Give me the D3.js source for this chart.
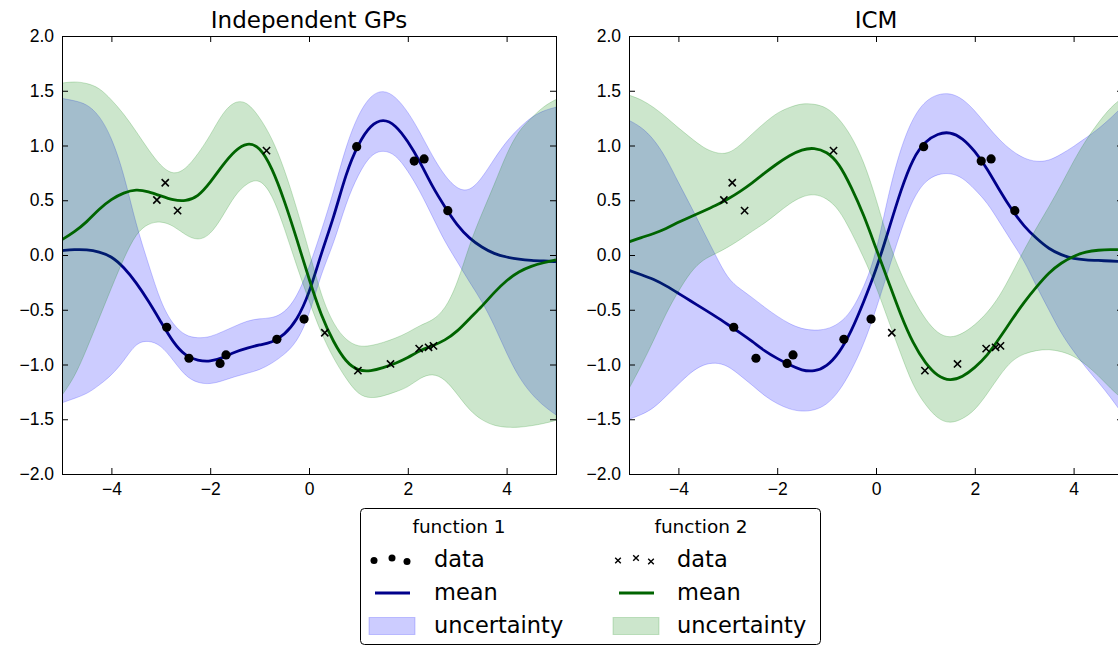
<!DOCTYPE html>
<html>
<head>
<meta charset="utf-8">
<script src="https://cdn.jsdelivr.net/npm/d3@7/dist/d3.min.js"></script>
<style>
  body { margin: 0; background: #fff; }
  svg { display: block; font-family: "DejaVu Sans", sans-serif; }
</style>
</head>
<body>
<svg id="chart" width="1118" height="646"></svg>
<script>
// prediction grid shared by every curve
const xGrid = [-5, -4.75, -4.5, -4.25, -4, -3.75, -3.5, -3.25, -3, -2.75, -2.5, -2.25, -2, -1.75, -1.5, -1.25, -1, -0.75, -0.5, -0.25,
  0, 0.25, 0.5, 0.75, 1, 1.25, 1.5, 1.75, 2, 2.25, 2.5, 2.75, 3, 3.25, 3.5, 3.75, 4, 4.25, 4.5, 4.75, 5];

// independent GPs, function 1
const indepMean1 = [0.04, 0.05, 0.05, 0.03, -0.01, -0.11, -0.25, -0.42, -0.61, -0.80, -0.925, -0.965, -0.975, -0.94, -0.885, -0.85, -0.82, -0.80, -0.73, -0.60,
  -0.36, 0.02, 0.34, 0.75, 1.02, 1.19, 1.245, 1.19, 1.04, 0.85, 0.62, 0.44, 0.27, 0.15, 0.07, 0.01, -0.02, -0.04, -0.05, -0.055, -0.06];
const indepUpper1 = [1.43, 1.41, 1.38, 1.28, 1.08, 0.75, 0.27, -0.08, -0.44, -0.64, -0.74, -0.76, -0.75, -0.70, -0.65, -0.60, -0.58, -0.578, -0.53, -0.39,
  -0.12, 0.22, 0.58, 1.0, 1.29, 1.46, 1.51, 1.45, 1.31, 1.12, 0.90, 0.72, 0.60, 0.58, 0.70, 0.88, 1.04, 1.16, 1.26, 1.32, 1.35];
const indepLower1 = [-1.35, -1.31, -1.27, -1.19, -1.10, -0.97, -0.80, -0.78, -0.82, -0.96, -1.11, -1.17, -1.18, -1.15, -1.11, -1.08, -1.05, -0.99, -0.91, -0.80,
  -0.56, -0.16, 0.10, 0.48, 0.74, 0.92, 0.96, 0.92, 0.77, 0.58, 0.35, 0.12, -0.06, -0.25, -0.42, -0.64, -0.90, -1.12, -1.27, -1.38, -1.46];

// independent GPs, function 2
const indepMean2 = [0.14, 0.21, 0.30, 0.42, 0.51, 0.57, 0.60, 0.58, 0.54, 0.50, 0.49, 0.53, 0.66, 0.82, 0.955, 1.03, 0.99, 0.80, 0.50, 0.15,
  -0.22, -0.56, -0.80, -0.98, -1.06, -1.06, -1.03, -0.99, -0.94, -0.87, -0.83, -0.78, -0.70, -0.58, -0.47, -0.34, -0.23, -0.15, -0.10, -0.07, -0.045];
const indepUpper2 = [1.57, 1.585, 1.57, 1.53, 1.42, 1.29, 1.13, 0.96, 0.81, 0.73, 0.78, 0.92, 1.09, 1.30, 1.41, 1.40, 1.26, 1.07, 0.79, 0.43,
  0.04, -0.38, -0.64, -0.78, -0.84, -0.83, -0.80, -0.76, -0.71, -0.64, -0.60, -0.50, -0.27, 0.10, 0.38, 0.64, 0.93, 1.14, 1.25, 1.36, 1.42];
const indepLower2 = [-1.28, -1.12, -0.86, -0.58, -0.30, -0.03, 0.20, 0.29, 0.31, 0.27, 0.18, 0.13, 0.18, 0.35, 0.55, 0.66, 0.70, 0.56, 0.25, -0.10,
  -0.42, -0.72, -0.95, -1.13, -1.28, -1.31, -1.29, -1.25, -1.21, -1.12, -1.08, -1.13, -1.27, -1.42, -1.51, -1.56, -1.575, -1.575, -1.56, -1.54, -1.51];

// ICM, function 1
const icmMean1 = [-0.14, -0.18, -0.22, -0.28, -0.35, -0.42, -0.49, -0.56, -0.635, -0.71, -0.79, -0.88, -0.945, -1.005, -1.055, -1.065, -1.02, -0.90, -0.70, -0.43,
  -0.14, 0.22, 0.59, 0.89, 1.04, 1.11, 1.125, 1.07, 0.95, 0.79, 0.59, 0.41, 0.26, 0.15, 0.055, 0.0, -0.035, -0.045, -0.05, -0.055, -0.06];
const icmUpper1 = [1.23, 1.17, 1.06, 0.89, 0.66, 0.45, 0.22, 0.0, -0.22, -0.31, -0.39, -0.48, -0.56, -0.63, -0.675, -0.69, -0.68, -0.63, -0.52, -0.30,
  0.0, 0.56, 0.98, 1.26, 1.41, 1.47, 1.48, 1.43, 1.32, 1.18, 1.05, 0.95, 0.88, 0.85, 0.86, 0.92, 0.99, 1.07, 1.15, 1.25, 1.36];
const icmLower1 = [-1.50, -1.46, -1.40, -1.29, -1.18, -1.07, -1.0, -0.98, -1.01, -1.10, -1.19, -1.29, -1.36, -1.41, -1.43, -1.42, -1.37, -1.25, -1.06, -0.82,
  -0.50, -0.14, 0.22, 0.52, 0.68, 0.74, 0.75, 0.71, 0.60, 0.48, 0.30, 0.12, -0.05, -0.29, -0.50, -0.72, -0.88, -1.03, -1.16, -1.30, -1.46];

// ICM, function 2
const icmMean2 = [0.12, 0.16, 0.195, 0.24, 0.30, 0.35, 0.40, 0.45, 0.51, 0.58, 0.66, 0.75, 0.835, 0.91, 0.965, 0.98, 0.945, 0.84, 0.62, 0.37,
  0.06, -0.24, -0.55, -0.81, -0.99, -1.11, -1.15, -1.115, -1.03, -0.92, -0.76, -0.59, -0.43, -0.29, -0.16, -0.07, -0.01, 0.03, 0.045, 0.05, 0.05];
const icmUpper2 = [1.46, 1.42, 1.35, 1.26, 1.16, 1.07, 0.98, 0.93, 0.92, 1.0, 1.11, 1.21, 1.30, 1.35, 1.385, 1.38, 1.35, 1.25, 1.09, 0.86,
  0.52, 0.12, -0.17, -0.40, -0.59, -0.72, -0.76, -0.72, -0.64, -0.53, -0.38, -0.17, 0.05, 0.25, 0.44, 0.64, 0.86, 1.05, 1.21, 1.35, 1.44];
const icmLower2 = [-1.22, -1.01, -0.78, -0.53, -0.33, -0.15, -0.04, 0.01, 0.07, 0.14, 0.22, 0.29, 0.38, 0.47, 0.535, 0.56, 0.52, 0.42, 0.21, -0.02,
  -0.28, -0.60, -0.90, -1.20, -1.37, -1.50, -1.54, -1.50, -1.42, -1.27, -1.10, -0.96, -0.90, -0.87, -0.86, -0.88, -0.92, -1.00, -1.10, -1.22, -1.32];

// observations
const obs1X = [-2.88, -2.43, -1.80, -1.68, -0.65, -0.10, 0.965, 2.13, 2.33, 2.81];
const obs1Y = [-0.66, -0.943, -0.99, -0.913, -0.77, -0.585, 0.989, 0.858, 0.877, 0.405];
const obs2X = [-3.08, -2.91, -2.66, -0.86, 0.32, 0.99, 1.65, 2.23, 2.42, 2.52];
const obs2Y = [0.502, 0.66, 0.405, 0.953, -0.71, -1.056, -0.995, -0.855, -0.843, -0.83];

const xTicks = [-4, -2, 0, 2, 4];
const yTicks = [-2, -1.5, -1, -0.5, 0, 0.5, 1, 1.5, 2];
const panelTitles = ['Independent GPs', 'ICM'];
const legendHeads = ['function 1', 'function 2'];
const legendItems = ['data', 'mean', 'uncertainty'];

const BLUE_LINE = '#00008b', GREEN_LINE = '#006400';
const BLUE_FILL = '#0000ff', GREEN_FILL = '#008000';

const svg = d3.select('#chart');
const plotTop = 36, plotW = 494, plotH = 438;
const y = d3.scaleLinear().domain([-2, 2]).range([plotTop + plotH, plotTop]);

const panels = [
  { title: panelTitles[0], left: 62,
    f1: { mean: indepMean1, upper: indepUpper1, lower: indepLower1 },
    f2: { mean: indepMean2, upper: indepUpper2, lower: indepLower2 } },
  { title: panelTitles[1], left: 629,
    f1: { mean: icmMean1, upper: icmUpper1, lower: icmLower1 },
    f2: { mean: icmMean2, upper: icmUpper2, lower: icmLower2 } },
];

const crossPath = (s) => `M${-s},${-s}L${s},${s}M${-s},${s}L${s},${-s}`;

panels.forEach((p, i) => {
  const x = d3.scaleLinear().domain([-5, 5]).range([p.left, p.left + plotW]);
  const g = svg.append('g');

  g.append('clipPath').attr('id', `clip-${i}`)
    .append('rect').attr('x', p.left).attr('y', plotTop).attr('width', plotW).attr('height', plotH);
  const plot = g.append('g').attr('clip-path', `url(#clip-${i})`);

  const area = (f) => d3.area()
    .x((d, k) => x(xGrid[k]))
    .y0((d, k) => y(f.lower[k]))
    .y1((d, k) => y(f.upper[k]))
    .curve(d3.curveBasis)(xGrid);
  const line = (f) => d3.line()
    .x((d, k) => x(xGrid[k]))
    .y((d, k) => y(f.mean[k]))
    .curve(d3.curveBasis)(xGrid);

  // function 1: band, mean, observations
  plot.append('path').attr('d', area(p.f1))
    .attr('fill', BLUE_FILL).attr('fill-opacity', 0.2)
    .attr('stroke', BLUE_FILL).attr('stroke-opacity', 0.2).attr('stroke-width', 1);
  plot.append('path').attr('d', line(p.f1))
    .attr('fill', 'none').attr('stroke', BLUE_LINE).attr('stroke-width', 2.8);
  plot.selectAll('circle.obs1').data(obs1X).join('circle')
    .attr('class', 'obs1')
    .attr('cx', (d) => x(d)).attr('cy', (d, k) => y(obs1Y[k]))
    .attr('r', 4.6).attr('fill', '#000');

  // function 2: band, mean, observations
  plot.append('path').attr('d', area(p.f2))
    .attr('fill', GREEN_FILL).attr('fill-opacity', 0.2)
    .attr('stroke', GREEN_FILL).attr('stroke-opacity', 0.2).attr('stroke-width', 1);
  plot.append('path').attr('d', line(p.f2))
    .attr('fill', 'none').attr('stroke', GREEN_LINE).attr('stroke-width', 2.8);
  plot.selectAll('path.obs2').data(obs2X).join('path')
    .attr('class', 'obs2')
    .attr('transform', (d, k) => `translate(${x(d)},${y(obs2Y[k])})`)
    .attr('d', crossPath(3.6))
    .attr('stroke', '#000').attr('stroke-width', 1.6).attr('fill', 'none');

  // axes with inward ticks on all four sides
  const styleAxis = (sel) => {
    sel.select('.domain').remove();
    sel.selectAll('.tick line').attr('stroke', '#000');
    sel.selectAll('.tick text').attr('fill', '#000').style('font-size', '17.5px');
  };
  g.append('g').attr('transform', `translate(0,${plotTop + plotH})`)
    .call(d3.axisBottom(x).tickValues(xTicks).tickSizeInner(-6).tickSizeOuter(0).tickPadding(9).tickFormat(d3.format('d')))
    .call(styleAxis);
  g.append('g').attr('transform', `translate(0,${plotTop})`)
    .call(d3.axisTop(x).tickValues(xTicks).tickSizeInner(-6).tickSizeOuter(0).tickFormat(() => ''))
    .call(styleAxis);
  g.append('g').attr('transform', `translate(${p.left},0)`)
    .call(d3.axisLeft(y).tickValues(yTicks).tickSizeInner(-6).tickSizeOuter(0).tickPadding(8).tickFormat(d3.format('.1f')))
    .call(styleAxis);
  g.append('g').attr('transform', `translate(${p.left + plotW},0)`)
    .call(d3.axisRight(y).tickValues(yTicks).tickSizeInner(-6).tickSizeOuter(0).tickFormat(() => ''))
    .call(styleAxis);

  g.append('rect')
    .attr('x', p.left + 0.5).attr('y', plotTop + 0.5)
    .attr('width', plotW).attr('height', plotH)
    .attr('fill', 'none').attr('stroke', '#000').attr('stroke-width', 1);

  g.append('text')
    .attr('x', p.left + plotW / 2).attr('y', 28)
    .attr('text-anchor', 'middle')
    .style('font-size', '23px')
    .text(p.title);
});

// legend
const lg = svg.append('g');
lg.append('rect')
  .attr('x', 360.5).attr('y', 508.5).attr('width', 460).attr('height', 136).attr('rx', 4)
  .attr('fill', '#fff').attr('stroke', '#000').attr('stroke-width', 1);

const cols = [
  { head: legendHeads[0], center: 459, markX: 392, textX: 434, line: BLUE_LINE, fill: BLUE_FILL, marker: 'dot' },
  { head: legendHeads[1], center: 701, markX: 636, textX: 677, line: GREEN_LINE, fill: GREEN_FILL, marker: 'cross' },
];
const rowY = [560, 593, 626];
const jitter = [{ dx: -18, dy: 0.5 }, { dx: 0, dy: -2 }, { dx: 15, dy: 1.5 }];

cols.forEach((c) => {
  lg.append('text').attr('x', c.center).attr('y', 533)
    .attr('text-anchor', 'middle').style('font-size', '18.5px').text(c.head);

  jitter.forEach((j) => {
    if (c.marker === 'dot') {
      lg.append('circle').attr('cx', c.markX + j.dx).attr('cy', rowY[0] + j.dy).attr('r', 3.5).attr('fill', '#000');
    } else {
      lg.append('path').attr('transform', `translate(${c.markX + j.dx},${rowY[0] + j.dy})`)
        .attr('d', crossPath(2.8)).attr('stroke', '#000').attr('stroke-width', 1.4);
    }
  });
  lg.append('line')
    .attr('x1', c.markX - 17).attr('x2', c.markX + 18)
    .attr('y1', rowY[1]).attr('y2', rowY[1])
    .attr('stroke', c.line).attr('stroke-width', 2.8);
  lg.append('rect')
    .attr('x', c.markX - 23).attr('y', rowY[2] - 8.5).attr('width', 46).attr('height', 17)
    .attr('fill', c.fill).attr('fill-opacity', 0.2)
    .attr('stroke', c.fill).attr('stroke-opacity', 0.2);

  legendItems.forEach((t, k) => {
    lg.append('text').attr('x', c.textX).attr('y', rowY[k] + 7)
      .style('font-size', '22.5px').text(t);
  });
});
</script>
</body>
</html>
